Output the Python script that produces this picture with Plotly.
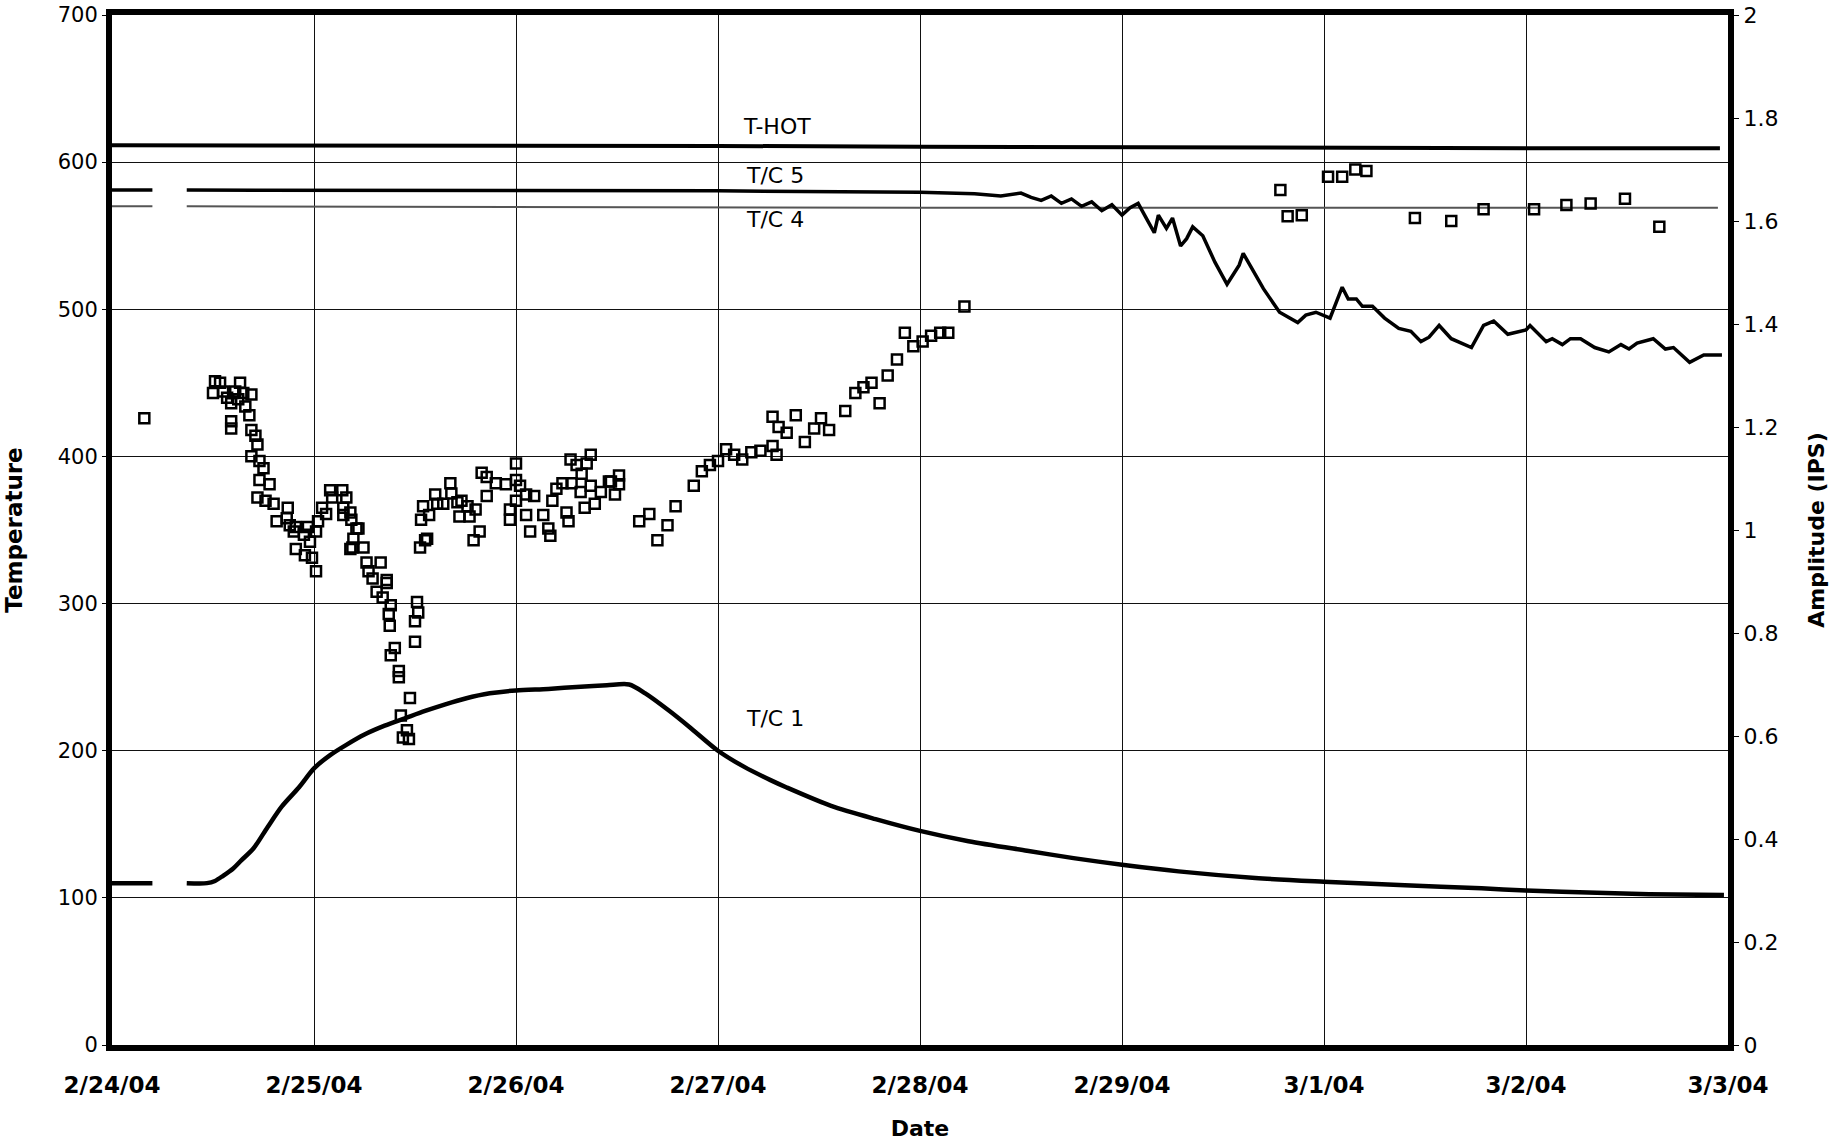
import plotly.graph_objects as go
from datetime import datetime, timedelta

BASE = datetime(2004, 2, 24)

# ---- data (days after 2/24/04 00:00) ----
thot_days = [0, 1, 2, 3, 4, 5, 6, 7, 7.96]
thot_temp = [611.5, 611.5, 611, 611, 610.5, 610, 610, 609.5, 609.5]

tc5_days = [0, 0.2, None, 0.37, 1.5, 3.0, 4.0, 4.27, 4.4, 4.5, 4.55, 4.6, 4.65, 4.7, 4.75, 4.8,
            4.85, 4.9, 4.95, 5.0, 5.04, 5.08, 5.12, 5.16, 5.18, 5.22, 5.25, 5.29, 5.32, 5.35,
            5.40, 5.46, 5.52, 5.58, 5.60, 5.63, 5.70, 5.78, 5.87, 5.91, 5.96, 6.03, 6.09, 6.12,
            6.16, 6.19, 6.24, 6.30, 6.37, 6.43, 6.48, 6.52, 6.57, 6.63, 6.73, 6.79, 6.84, 6.91,
            7.00, 7.02, 7.10, 7.13, 7.18, 7.22, 7.27, 7.34, 7.41, 7.47, 7.51, 7.55, 7.63, 7.69,
            7.73, 7.81, 7.88, 7.97]
tc5_temp = [581, 581, None, 581, 581, 580.5, 579.5, 578.5, 577, 579, 576, 574, 577, 572, 575, 570,
            573, 567, 571, 564, 569, 572, 562, 552, 564, 555, 562, 543, 548, 556,
            550, 532, 517, 530, 538, 531, 514, 498, 491, 496, 498, 494, 515, 507,
            507, 502, 502, 494, 487, 485, 478, 481, 489, 480, 474, 489, 492, 483,
            486, 489, 478, 480, 476, 480, 480, 474, 471, 476, 473, 477, 480, 473,
            474, 464, 469, 469]

tc4_days = [0, 0.2, None, 0.37, 2, 4, 6, 7.95]
tc4_temp = [570, 570, None, 570, 569.5, 569, 569, 569]

tc1_days = [0, 0.2, None, 0.37, 0.47, 0.51, 0.55, 0.60, 0.64, 0.70, 0.77, 0.84, 0.925, 1.0,
            1.08, 1.16, 1.25, 1.35, 1.45, 1.55, 1.65, 1.75, 1.87, 2.0, 2.16, 2.32, 2.45, 2.56,
            2.64, 2.76, 2.86, 3.0, 3.13, 3.26, 3.34, 3.56, 3.78, 4.0, 4.24, 4.53, 4.76, 5.0,
            5.28, 5.66, 6.0, 6.4, 6.78, 7.0, 7.35, 7.61, 7.98]
tc1_temp = [110, 110, None, 110, 110, 111.5, 115, 120, 125.5, 133.5, 148, 162, 175, 188,
            197, 204, 211, 217, 222, 227, 231.5, 235.5, 239, 241, 242, 243.5, 244.5, 245,
            239, 227, 216, 200, 189, 180, 175, 162.5, 153.5, 145.5, 138.5, 132, 127, 122.5,
            118, 113.5, 111, 108.5, 106.5, 105, 103.5, 102.5, 102]

amp_days = [0.16, 0.50, 0.51, 0.535, 0.55, 0.57, 0.59, 0.59, 0.59, 0.61, 0.625, 0.634, 0.65, 0.66,
            0.68, 0.69, 0.69, 0.69, 0.71, 0.72, 0.72, 0.73, 0.73, 0.75, 0.76, 0.78, 0.80, 0.815,
            0.865, 0.87, 0.88, 0.90, 0.91, 0.91, 0.95, 0.955, 0.97, 0.98, 0.99, 1.01, 1.01, 1.02,
            1.04, 1.06, 1.08, 1.09, 1.14, 1.145, 1.145, 1.16, 1.18, 1.18, 1.185, 1.19, 1.195, 1.21,
            1.22, 1.245, 1.26, 1.27, 1.29, 1.31, 1.33, 1.34, 1.36, 1.36, 1.37, 1.375, 1.38, 1.38,
            1.40, 1.42, 1.42, 1.43, 1.44, 1.46, 1.47, 1.475, 1.50, 1.50, 1.51, 1.516, 1.525, 1.53,
            1.54, 1.55, 1.56, 1.57, 1.60, 1.61, 1.64, 1.675, 1.68, 1.71, 1.72, 1.73, 1.76, 1.77,
            1.79, 1.80, 1.82, 1.83, 1.855, 1.855, 1.90, 1.95, 1.97, 1.97, 2.0, 2.0, 2.0, 2.02,
            2.05, 2.05, 2.07, 2.09, 2.135, 2.16, 2.17, 2.18, 2.20, 2.23, 2.25, 2.26, 2.27, 2.275,
            2.30, 2.32, 2.325, 2.34, 2.35, 2.37, 2.37, 2.39, 2.42, 2.46, 2.47, 2.49, 2.51, 2.51,
            2.61, 2.66, 2.70, 2.75, 2.79, 2.88, 2.92, 2.96, 3.0, 3.04, 3.08, 3.12, 3.165, 3.21,
            3.27, 3.27, 3.29, 3.30, 3.34, 3.385, 3.43, 3.476, 3.51, 3.55, 3.63, 3.68, 3.72, 3.76,
            3.80, 3.84, 3.886, 3.925, 3.967, 4.013, 4.055, 4.10, 4.14, 4.22,
            5.784, 5.82, 5.89, 6.02, 6.09, 6.155, 6.21, 6.45, 6.63, 6.79, 7.04, 7.20, 7.32, 7.49, 7.66]
amp_ips = [1.217, 1.266, 1.289, 1.286, 1.269, 1.257, 1.246, 1.211, 1.197, 1.269, 1.254, 1.286, 1.266, 1.240,
           1.223, 1.263, 1.194, 1.143, 1.183, 1.166, 1.063, 1.134, 1.097, 1.120, 1.057, 1.089, 1.051, 1.017,
           1.023, 1.043, 1.009, 0.997, 1.006, 0.963, 0.991, 0.951, 1.006, 0.977, 0.946, 0.997, 0.920, 1.017,
           1.043, 1.031, 1.077, 1.063, 1.077, 1.043, 1.029, 1.063, 1.034, 0.963, 1.020, 0.966, 0.983, 1.003,
           1.003, 0.966, 0.937, 0.920, 0.906, 0.880, 0.937, 0.869, 0.897, 0.903, 0.837, 0.814, 0.854, 0.757,
           0.771, 0.726, 0.714, 0.640, 0.597, 0.611, 0.594, 0.674, 0.823, 0.783, 0.860, 0.840, 0.966, 1.020,
           1.046, 0.980, 0.983, 1.029, 1.069, 1.051, 1.051, 1.091, 1.071, 1.054, 1.026, 1.057, 1.046, 1.026,
           0.980, 1.040, 0.997, 1.111, 1.103, 1.066, 1.091, 1.089, 1.040, 1.020, 1.129, 1.097, 1.057, 1.086,
           1.069, 1.029, 0.997, 1.066, 1.029, 1.003, 0.989, 1.057, 1.080, 1.091, 1.034, 1.017, 1.137, 1.091,
           1.126, 1.074, 1.109, 1.043, 1.129, 1.146, 1.086, 1.051, 1.074, 1.094, 1.094, 1.069, 1.106, 1.089,
           1.017, 1.031, 0.980, 1.009, 1.046, 1.086, 1.114, 1.126, 1.134, 1.157, 1.146, 1.137, 1.151, 1.154,
           1.163, 1.220, 1.146, 1.200, 1.189, 1.223, 1.171, 1.197, 1.217, 1.194, 1.231, 1.266, 1.277, 1.286,
           1.246, 1.300, 1.331, 1.383, 1.357, 1.366, 1.377, 1.383, 1.383, 1.434,
           1.660, 1.609, 1.611, 1.686, 1.686, 1.700, 1.697, 1.606, 1.600, 1.623, 1.623, 1.631, 1.634, 1.643, 1.589]

label_text = ["T-HOT", "T/C 5", "T/C 4", "T/C 1"]
label_days = [3.29, 3.28, 3.28, 3.28]
label_temp = [624, 591, 561, 222]

temp_ticks = [0, 100, 200, 300, 400, 500, 600, 700]
amp_ticks = [0, 0.2, 0.4, 0.6, 0.8, 1, 1.2, 1.4, 1.6, 1.8, 2]
date_ticks = ["2/24/04", "2/25/04", "2/26/04", "2/27/04", "2/28/04", "2/29/04", "3/1/04", "3/2/04", "3/3/04"]


def to_dates(days):
    return [None if d is None else BASE + timedelta(days=d) for d in days]


FONT = "DejaVu Sans"
fig = go.Figure()

fig.add_trace(go.Scatter(x=to_dates(tc4_days), y=tc4_temp, mode="lines",
                         line=dict(color="#555555", width=2), connectgaps=False))
fig.add_trace(go.Scatter(x=to_dates(thot_days), y=thot_temp, mode="lines",
                         line=dict(color="black", width=4)))
fig.add_trace(go.Scatter(x=to_dates(tc5_days), y=tc5_temp, mode="lines",
                         line=dict(color="black", width=3.5), connectgaps=False))
fig.add_trace(go.Scatter(x=to_dates(tc1_days), y=tc1_temp, mode="lines",
                         line=dict(color="black", width=4.5, shape="spline", smoothing=0.8),
                         connectgaps=False))
fig.add_trace(go.Scatter(x=to_dates(amp_days), y=amp_ips, mode="markers", yaxis="y2",
                         marker=dict(symbol="square-open", size=10, color="black",
                                     line=dict(width=2.5, color="black"))))

for t, d, v in zip(label_text, label_days, label_temp):
    fig.add_annotation(x=BASE + timedelta(days=d), y=v, text=t, showarrow=False,
                       font=dict(family=FONT, size=22, color="black"))

tickvals = [BASE + timedelta(days=i) for i in range(len(date_ticks))]

fig.update_layout(
    width=1831, height=1141,
    margin=dict(l=112, r=103, t=15, b=96),
    paper_bgcolor="white", plot_bgcolor="white",
    showlegend=False,
    font=dict(family=FONT, color="black"),
    xaxis=dict(
        type="date", range=[BASE, BASE + timedelta(days=8)],
        tickvals=tickvals, ticktext=date_ticks, automargin=False,
        showgrid=True, gridcolor="#111111", gridwidth=1,
        showline=True, linecolor="black", linewidth=6, mirror=True,
        ticks="", ticklabelstandoff=14,
        tickfont=dict(family=FONT, size=23, color="black", weight="bold"),
        title=dict(text="Date", font=dict(family=FONT, size=22, weight="bold"), standoff=29),
        zeroline=False,
    ),
    yaxis=dict(
        range=[0, 700], tickvals=temp_ticks, automargin=False,
        showgrid=True, gridcolor="#111111", gridwidth=1,
        showline=True, linecolor="black", linewidth=6,
        ticks="outside", ticklen=4, tickcolor="black",
        tickfont=dict(family=FONT, size=21, color="black"),
        title=dict(text="Temperature", font=dict(family=FONT, size=23, weight="bold"), standoff=31),
        zeroline=False,
    ),
    yaxis2=dict(
        range=[0, 2], tickvals=amp_ticks, overlaying="y", side="right", automargin=False,
        showgrid=False, showline=True, linecolor="black", linewidth=6,
        ticks="outside", ticklen=5, tickcolor="black",
        tickfont=dict(family=FONT, size=22, color="black"),
        title=dict(text="Amplitude (IPS)", font=dict(family=FONT, size=22, weight="bold"), standoff=33),
        zeroline=False,
    ),
)

fig.write_html("out.html")
